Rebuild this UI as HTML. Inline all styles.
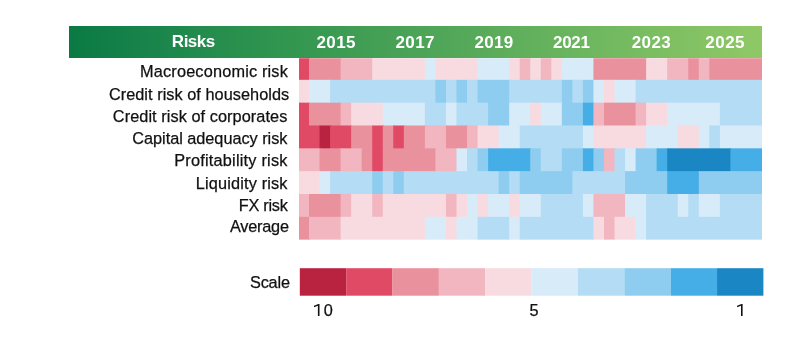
<!DOCTYPE html>
<html><head><meta charset="utf-8"><style>
html,body{margin:0;padding:0;background:#fff;width:800px;height:350px;overflow:hidden;position:relative}
body{font-family:"Liberation Sans",sans-serif;color:#1a1a1a}
.hdr{position:absolute;left:69.0px;top:26.3px;width:693.3px;height:31.6px;background:linear-gradient(90deg,#0b7943 0%,#17834b 10%,#30954f 30%,#52a759 55%,#72b960 78%,#90c866 100%)}
.t{position:absolute;white-space:nowrap;filter:opacity(1)}
.n{-webkit-text-stroke:0.25px currentColor}
svg{position:absolute;left:0;top:0}
</style></head><body>
<svg width="800" height="350" viewBox="0 0 800 350">
<rect x="299.00" y="58.20" width="11.00" height="22.63" fill="#e04a65"/><rect x="309.00" y="58.20" width="32.61" height="22.63" fill="#ea919e"/><rect x="340.61" y="58.20" width="32.60" height="22.63" fill="#f2b6c0"/><rect x="372.21" y="58.20" width="53.68" height="22.63" fill="#f8dbe0"/><rect x="424.88" y="58.20" width="11.54" height="22.63" fill="#d8ebf9"/><rect x="435.42" y="58.20" width="43.14" height="22.63" fill="#f8dbe0"/><rect x="477.56" y="58.20" width="32.60" height="22.63" fill="#d8ebf9"/><rect x="509.16" y="58.20" width="11.54" height="22.63" fill="#f8dbe0"/><rect x="519.70" y="58.20" width="11.53" height="22.63" fill="#f2b6c0"/><rect x="530.24" y="58.20" width="11.53" height="22.63" fill="#f8dbe0"/><rect x="540.77" y="58.20" width="11.54" height="22.63" fill="#f2b6c0"/><rect x="551.31" y="58.20" width="11.53" height="22.63" fill="#f8dbe0"/><rect x="561.84" y="58.20" width="32.60" height="22.63" fill="#d8ebf9"/><rect x="593.44" y="58.20" width="53.68" height="22.63" fill="#ea919e"/><rect x="646.12" y="58.20" width="22.07" height="22.63" fill="#f8dbe0"/><rect x="667.19" y="58.20" width="22.07" height="22.63" fill="#f2b6c0"/><rect x="688.26" y="58.20" width="11.54" height="22.63" fill="#ea919e"/><rect x="698.80" y="58.20" width="11.53" height="22.63" fill="#f2b6c0"/><rect x="709.33" y="58.20" width="52.67" height="22.63" fill="#ea919e"/><rect x="299.00" y="79.83" width="11.00" height="23.83" fill="#f8dbe0"/><rect x="309.00" y="79.83" width="22.07" height="23.83" fill="#d8ebf9"/><rect x="330.07" y="79.83" width="106.35" height="23.83" fill="#b4dcf4"/><rect x="435.42" y="79.83" width="11.54" height="23.83" fill="#8ecdf0"/><rect x="445.96" y="79.83" width="11.53" height="23.83" fill="#b4dcf4"/><rect x="456.49" y="79.83" width="11.53" height="23.83" fill="#8ecdf0"/><rect x="467.02" y="79.83" width="11.54" height="23.83" fill="#b4dcf4"/><rect x="477.56" y="79.83" width="32.60" height="23.83" fill="#8ecdf0"/><rect x="509.16" y="79.83" width="53.68" height="23.83" fill="#b4dcf4"/><rect x="561.84" y="79.83" width="11.53" height="23.83" fill="#8ecdf0"/><rect x="572.38" y="79.83" width="11.54" height="23.83" fill="#b4dcf4"/><rect x="582.91" y="79.83" width="11.53" height="23.83" fill="#8ecdf0"/><rect x="593.44" y="79.83" width="11.54" height="23.83" fill="#d8ebf9"/><rect x="603.98" y="79.83" width="11.53" height="23.83" fill="#f8dbe0"/><rect x="614.51" y="79.83" width="22.07" height="23.83" fill="#d8ebf9"/><rect x="635.59" y="79.83" width="126.41" height="23.83" fill="#b4dcf4"/><rect x="299.00" y="102.66" width="11.00" height="23.83" fill="#e04a65"/><rect x="309.00" y="102.66" width="32.61" height="23.83" fill="#ea919e"/><rect x="340.61" y="102.66" width="11.53" height="23.83" fill="#f2b6c0"/><rect x="351.14" y="102.66" width="32.61" height="23.83" fill="#f8dbe0"/><rect x="382.75" y="102.66" width="43.14" height="23.83" fill="#d8ebf9"/><rect x="424.88" y="102.66" width="22.07" height="23.83" fill="#b4dcf4"/><rect x="445.96" y="102.66" width="11.53" height="23.83" fill="#d8ebf9"/><rect x="456.49" y="102.66" width="32.61" height="23.83" fill="#b4dcf4"/><rect x="488.10" y="102.66" width="22.07" height="23.83" fill="#8ecdf0"/><rect x="509.16" y="102.66" width="22.07" height="23.83" fill="#d8ebf9"/><rect x="530.24" y="102.66" width="11.53" height="23.83" fill="#f8dbe0"/><rect x="540.77" y="102.66" width="22.07" height="23.83" fill="#d8ebf9"/><rect x="561.84" y="102.66" width="22.07" height="23.83" fill="#8ecdf0"/><rect x="582.91" y="102.66" width="11.53" height="23.83" fill="#46aee6"/><rect x="593.44" y="102.66" width="11.54" height="23.83" fill="#f2b6c0"/><rect x="603.98" y="102.66" width="32.61" height="23.83" fill="#ea919e"/><rect x="635.59" y="102.66" width="11.53" height="23.83" fill="#f2b6c0"/><rect x="646.12" y="102.66" width="22.07" height="23.83" fill="#f8dbe0"/><rect x="667.19" y="102.66" width="53.67" height="23.83" fill="#d8ebf9"/><rect x="719.87" y="102.66" width="42.13" height="23.83" fill="#b4dcf4"/><rect x="299.00" y="125.49" width="21.54" height="23.83" fill="#e04a65"/><rect x="319.54" y="125.49" width="11.53" height="23.83" fill="#b92340"/><rect x="330.07" y="125.49" width="22.07" height="23.83" fill="#e04a65"/><rect x="351.14" y="125.49" width="22.07" height="23.83" fill="#ea919e"/><rect x="372.21" y="125.49" width="11.54" height="23.83" fill="#e04a65"/><rect x="382.75" y="125.49" width="11.53" height="23.83" fill="#ea919e"/><rect x="393.28" y="125.49" width="11.54" height="23.83" fill="#e04a65"/><rect x="403.81" y="125.49" width="22.07" height="23.83" fill="#ea919e"/><rect x="424.88" y="125.49" width="22.07" height="23.83" fill="#f2b6c0"/><rect x="445.96" y="125.49" width="22.07" height="23.83" fill="#ea919e"/><rect x="467.02" y="125.49" width="11.54" height="23.83" fill="#f2b6c0"/><rect x="477.56" y="125.49" width="22.07" height="23.83" fill="#f8dbe0"/><rect x="498.63" y="125.49" width="22.07" height="23.83" fill="#d8ebf9"/><rect x="519.70" y="125.49" width="64.21" height="23.83" fill="#b4dcf4"/><rect x="582.91" y="125.49" width="11.53" height="23.83" fill="#d8ebf9"/><rect x="593.44" y="125.49" width="53.68" height="23.83" fill="#f8dbe0"/><rect x="646.12" y="125.49" width="32.61" height="23.83" fill="#d8ebf9"/><rect x="677.73" y="125.49" width="22.07" height="23.83" fill="#f8dbe0"/><rect x="698.80" y="125.49" width="11.53" height="23.83" fill="#d8ebf9"/><rect x="709.33" y="125.49" width="11.54" height="23.83" fill="#b4dcf4"/><rect x="719.87" y="125.49" width="42.13" height="23.83" fill="#d8ebf9"/><rect x="299.00" y="148.32" width="21.54" height="23.83" fill="#f2b6c0"/><rect x="319.54" y="148.32" width="22.07" height="23.83" fill="#ea919e"/><rect x="340.61" y="148.32" width="22.07" height="23.83" fill="#f2b6c0"/><rect x="361.68" y="148.32" width="11.53" height="23.83" fill="#ea919e"/><rect x="372.21" y="148.32" width="11.54" height="23.83" fill="#e04a65"/><rect x="382.75" y="148.32" width="53.68" height="23.83" fill="#ea919e"/><rect x="435.42" y="148.32" width="22.07" height="23.83" fill="#f2b6c0"/><rect x="456.49" y="148.32" width="11.53" height="23.83" fill="#d8ebf9"/><rect x="467.02" y="148.32" width="11.54" height="23.83" fill="#b4dcf4"/><rect x="477.56" y="148.32" width="11.54" height="23.83" fill="#8ecdf0"/><rect x="488.10" y="148.32" width="43.14" height="23.83" fill="#46aee6"/><rect x="530.24" y="148.32" width="11.53" height="23.83" fill="#8ecdf0"/><rect x="540.77" y="148.32" width="22.07" height="23.83" fill="#b4dcf4"/><rect x="561.84" y="148.32" width="22.07" height="23.83" fill="#8ecdf0"/><rect x="582.91" y="148.32" width="11.53" height="23.83" fill="#46aee6"/><rect x="593.44" y="148.32" width="11.54" height="23.83" fill="#8ecdf0"/><rect x="603.98" y="148.32" width="11.53" height="23.83" fill="#f2b6c0"/><rect x="614.51" y="148.32" width="11.53" height="23.83" fill="#b4dcf4"/><rect x="625.05" y="148.32" width="11.54" height="23.83" fill="#d8ebf9"/><rect x="635.59" y="148.32" width="22.07" height="23.83" fill="#8ecdf0"/><rect x="656.65" y="148.32" width="11.54" height="23.83" fill="#46aee6"/><rect x="667.19" y="148.32" width="64.21" height="23.83" fill="#1a87c4"/><rect x="730.40" y="148.32" width="31.60" height="23.83" fill="#46aee6"/><rect x="299.00" y="171.15" width="21.54" height="23.83" fill="#f8dbe0"/><rect x="319.54" y="171.15" width="11.53" height="23.83" fill="#d8ebf9"/><rect x="330.07" y="171.15" width="43.14" height="23.83" fill="#b4dcf4"/><rect x="372.21" y="171.15" width="11.54" height="23.83" fill="#8ecdf0"/><rect x="382.75" y="171.15" width="11.53" height="23.83" fill="#b4dcf4"/><rect x="393.28" y="171.15" width="11.54" height="23.83" fill="#8ecdf0"/><rect x="403.81" y="171.15" width="95.81" height="23.83" fill="#b4dcf4"/><rect x="498.63" y="171.15" width="11.53" height="23.83" fill="#8ecdf0"/><rect x="509.16" y="171.15" width="11.54" height="23.83" fill="#b4dcf4"/><rect x="519.70" y="171.15" width="53.67" height="23.83" fill="#8ecdf0"/><rect x="572.38" y="171.15" width="53.67" height="23.83" fill="#b4dcf4"/><rect x="625.05" y="171.15" width="43.14" height="23.83" fill="#8ecdf0"/><rect x="667.19" y="171.15" width="32.61" height="23.83" fill="#46aee6"/><rect x="698.80" y="171.15" width="63.20" height="23.83" fill="#8ecdf0"/><rect x="299.00" y="193.98" width="11.00" height="23.83" fill="#f2b6c0"/><rect x="309.00" y="193.98" width="32.61" height="23.83" fill="#ea919e"/><rect x="340.61" y="193.98" width="11.53" height="23.83" fill="#f2b6c0"/><rect x="351.14" y="193.98" width="22.07" height="23.83" fill="#f8dbe0"/><rect x="372.21" y="193.98" width="11.54" height="23.83" fill="#f2b6c0"/><rect x="382.75" y="193.98" width="64.21" height="23.83" fill="#f8dbe0"/><rect x="445.96" y="193.98" width="11.53" height="23.83" fill="#f2b6c0"/><rect x="456.49" y="193.98" width="11.53" height="23.83" fill="#f8dbe0"/><rect x="467.02" y="193.98" width="11.54" height="23.83" fill="#d8ebf9"/><rect x="477.56" y="193.98" width="11.54" height="23.83" fill="#f8dbe0"/><rect x="488.10" y="193.98" width="22.07" height="23.83" fill="#d8ebf9"/><rect x="509.16" y="193.98" width="11.54" height="23.83" fill="#f8dbe0"/><rect x="519.70" y="193.98" width="22.07" height="23.83" fill="#d8ebf9"/><rect x="540.77" y="193.98" width="43.14" height="23.83" fill="#b4dcf4"/><rect x="582.91" y="193.98" width="11.53" height="23.83" fill="#d8ebf9"/><rect x="593.44" y="193.98" width="32.61" height="23.83" fill="#f2b6c0"/><rect x="625.05" y="193.98" width="22.07" height="23.83" fill="#d8ebf9"/><rect x="646.12" y="193.98" width="32.61" height="23.83" fill="#b4dcf4"/><rect x="677.73" y="193.98" width="11.53" height="23.83" fill="#d8ebf9"/><rect x="688.26" y="193.98" width="11.54" height="23.83" fill="#b4dcf4"/><rect x="698.80" y="193.98" width="22.07" height="23.83" fill="#d8ebf9"/><rect x="719.87" y="193.98" width="42.13" height="23.83" fill="#b4dcf4"/><rect x="299.00" y="216.81" width="11.00" height="22.83" fill="#ea919e"/><rect x="309.00" y="216.81" width="32.61" height="22.83" fill="#f2b6c0"/><rect x="340.61" y="216.81" width="85.28" height="22.83" fill="#f8dbe0"/><rect x="424.88" y="216.81" width="22.07" height="22.83" fill="#d8ebf9"/><rect x="445.96" y="216.81" width="11.53" height="22.83" fill="#f8dbe0"/><rect x="456.49" y="216.81" width="22.07" height="22.83" fill="#d8ebf9"/><rect x="477.56" y="216.81" width="32.60" height="22.83" fill="#b4dcf4"/><rect x="509.16" y="216.81" width="11.54" height="22.83" fill="#d8ebf9"/><rect x="519.70" y="216.81" width="74.74" height="22.83" fill="#b4dcf4"/><rect x="593.44" y="216.81" width="11.54" height="22.83" fill="#f8dbe0"/><rect x="603.98" y="216.81" width="11.53" height="22.83" fill="#f2b6c0"/><rect x="614.51" y="216.81" width="22.07" height="22.83" fill="#f8dbe0"/><rect x="635.59" y="216.81" width="11.53" height="22.83" fill="#d8ebf9"/><rect x="646.12" y="216.81" width="115.88" height="22.83" fill="#b4dcf4"/>
<rect x="299.80" y="268.2" width="46.36" height="27.5" fill="#b92340"/><rect x="346.16" y="268.2" width="46.36" height="27.5" fill="#e04a65"/><rect x="392.52" y="268.2" width="46.36" height="27.5" fill="#ea919e"/><rect x="438.88" y="268.2" width="46.36" height="27.5" fill="#f2b6c0"/><rect x="485.24" y="268.2" width="46.36" height="27.5" fill="#f8dbe0"/><rect x="531.60" y="268.2" width="46.36" height="27.5" fill="#d8ebf9"/><rect x="577.96" y="268.2" width="46.36" height="27.5" fill="#b4dcf4"/><rect x="624.32" y="268.2" width="46.36" height="27.5" fill="#8ecdf0"/><rect x="670.68" y="268.2" width="46.36" height="27.5" fill="#46aee6"/><rect x="717.04" y="268.2" width="46.36" height="27.5" fill="#1a87c4"/>
<path d="M319.5,304.1 L319.5,315.9 L317.9,315.9 L317.9,305.75 L314.0,307.3 L314.0,305.75 L318.4,304.1 Z" fill="#111"/>
<path transform="translate(423.1,0)" d="M319.5,304.1 L319.5,315.9 L317.9,315.9 L317.9,305.75 L314.0,307.3 L314.0,305.75 L318.4,304.1 Z" fill="#111"/>
</svg>
<div class="hdr"></div>
<div class="t n" style="right:512.00px;top:63.06px;font-size:16.30px;line-height:16.30px;font-weight:normal;color:#111;letter-spacing:0.180px">Macroeconomic risk</div><div class="t n" style="right:510.82px;top:85.55px;font-size:16.30px;line-height:16.30px;font-weight:normal;color:#111;letter-spacing:0.044px">Credit risk of households</div><div class="t n" style="right:512.65px;top:107.55px;font-size:16.30px;line-height:16.30px;font-weight:normal;color:#111;letter-spacing:0.068px">Credit risk of corporates</div><div class="t n" style="right:512.65px;top:129.93px;font-size:16.30px;line-height:16.30px;font-weight:normal;color:#111;letter-spacing:-0.031px">Capital adequacy risk</div><div class="t n" style="right:512.42px;top:151.79px;font-size:16.30px;line-height:16.30px;font-weight:normal;color:#111;letter-spacing:0.213px">Profitability risk</div><div class="t n" style="right:512.33px;top:174.75px;font-size:16.30px;line-height:16.30px;font-weight:normal;color:#111;letter-spacing:0.172px">Liquidity risk</div><div class="t n" style="right:512.49px;top:196.64px;font-size:16.30px;line-height:16.30px;font-weight:normal;color:#111;letter-spacing:-0.283px">FX risk</div><div class="t n" style="right:511.25px;top:218.13px;font-size:16.30px;line-height:16.30px;font-weight:normal;color:#111;letter-spacing:-0.222px">Average</div><div class="t n" style="right:510.14px;top:273.57px;font-size:16.30px;line-height:16.30px;font-weight:normal;color:#111;letter-spacing:-0.158px">Scale</div><div class="t n" style="right:467.32px;top:302.09px;font-size:16.30px;line-height:16.30px;font-weight:normal;color:#111;letter-spacing:0.000px">0</div><div class="t n" style="right:261.55px;top:302.21px;font-size:16.30px;line-height:16.30px;font-weight:normal;color:#111;letter-spacing:0.000px">5</div><div class="t" style="right:585.20px;top:33.01px;font-size:17.00px;line-height:17.00px;font-weight:bold;color:#fff;letter-spacing:-0.477px">Risks</div><div class="t" style="right:444.08px;top:34.40px;font-size:17.00px;line-height:17.00px;font-weight:bold;color:#fff;letter-spacing:0.414px">2015</div><div class="t" style="right:365.05px;top:34.39px;font-size:17.00px;line-height:17.00px;font-weight:bold;color:#fff;letter-spacing:0.412px">2017</div><div class="t" style="right:286.59px;top:34.36px;font-size:17.00px;line-height:17.00px;font-weight:bold;color:#fff;letter-spacing:0.297px">2019</div><div class="t" style="right:210.36px;top:34.40px;font-size:17.00px;line-height:17.00px;font-weight:bold;color:#fff;letter-spacing:-0.315px">2021</div><div class="t" style="right:128.86px;top:34.38px;font-size:17.00px;line-height:17.00px;font-weight:bold;color:#fff;letter-spacing:0.423px">2023</div><div class="t" style="right:54.92px;top:34.40px;font-size:17.00px;line-height:17.00px;font-weight:bold;color:#fff;letter-spacing:0.516px">2025</div>
</body></html>
